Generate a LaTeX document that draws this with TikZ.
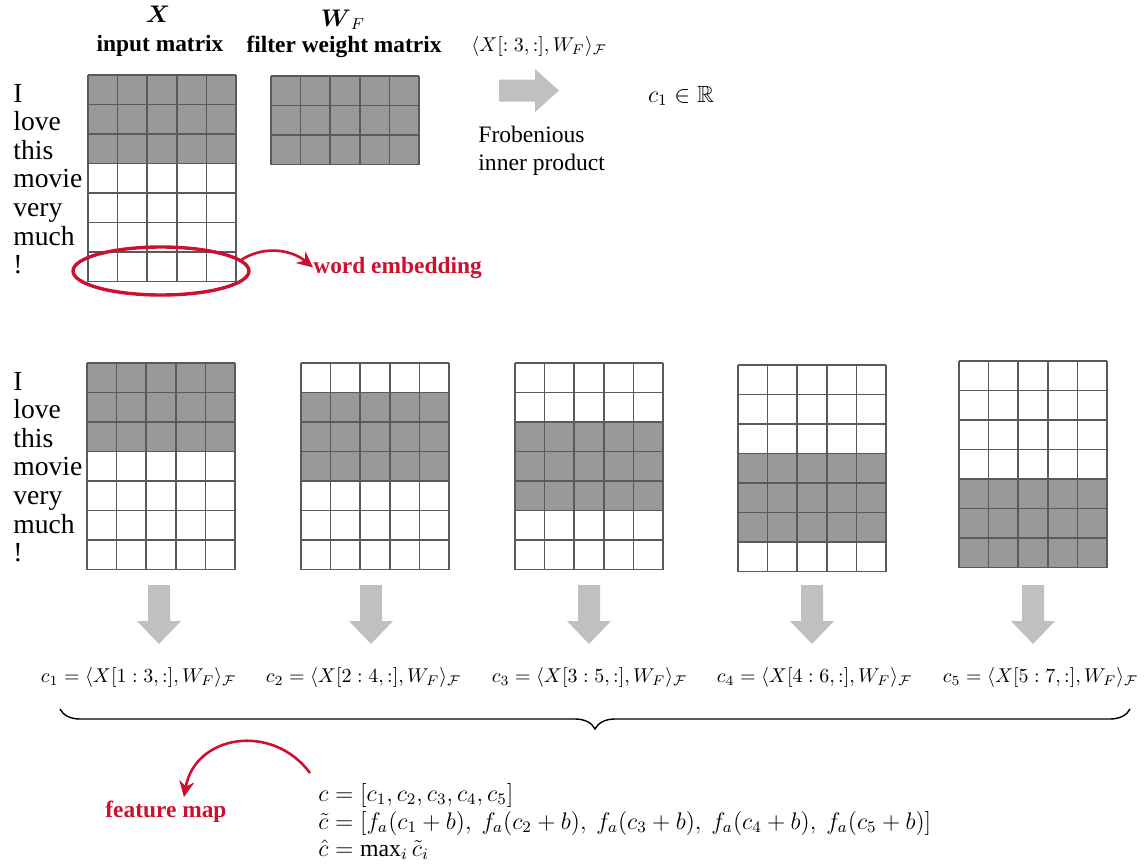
\documentclass[tikz,border=0pt]{standalone}
\usepackage{amsmath,amssymb}
\usepackage{fontspec}
\setmainfont{Liberation Serif}
\usetikzlibrary{arrows.meta,decorations.pathreplacing,calc,shapes.geometric}
\definecolor{cellgray}{HTML}{999999}
\definecolor{gridcol}{HTML}{5A5A5A}
\definecolor{arrowgray}{HTML}{C0C0C0}
\definecolor{accent}{RGB}{204,16,46}
\def\cw{29.6}
\def\ch{29.5}
\newcommand\gridmat[6]{% name, x, y, rows, first shaded, last shaded
  \node[inner sep=0pt, minimum width={5*\cw*0.5pt}, minimum height={#4*\ch*0.5pt}, anchor=north west] (#1) at (#2,#3) {};
  \fill[cellgray] (#2,{#3+(#5-1)*\ch}) rectangle ({#2+5*\cw},{#3+#6*\ch});
  \foreach \i in {0,...,5} \draw[gridln] ({#2+\i*\cw},#3) -- ({#2+\i*\cw},{#3+#4*\ch});
  \foreach \j in {0,...,#4} \draw[gridln] (#2,{#3+\j*\ch}) -- ({#2+5*\cw},{#3+\j*\ch});
}
\newcommand\downblock[2]{% center x, top y
  \fill[arrowgray] ({#1-11},#2) -- ({#1+11},#2) -- ({#1+11},{#2+36}) -- ({#1+22},{#2+36})
    -- (#1,{#2+59}) -- ({#1-22},{#2+36}) -- ({#1-11},{#2+36}) -- cycle;
}
\tikzset{
  gridln/.style={draw=gridcol, line width=0.75pt},
  word/.style={inner sep=0pt, anchor=base west, font=\fontsize{13.8}{16}\selectfont},
  hdr/.style={inner sep=0pt, anchor=base, font=\fontsize{11.7}{14}\selectfont},
  plain/.style={inner sep=0pt, anchor=base west, font=\fontsize{11.8}{14}\selectfont},
  mth/.style={inner sep=0pt, anchor=base, font=\fontsize{10.4}{12}\selectfont},
  eqn/.style={inner sep=0pt, anchor=base west, font=\fontsize{11.9}{14}\selectfont},
  redlbl/.style={inner sep=0pt, anchor=base west, text=accent, font=\fontsize{11.7}{14}\selectfont\bfseries},
  redarrow/.style={draw=accent, line width=1.3pt, -{Stealth[length=8pt,width=7.5pt]}},
}
\begin{document}
\begin{tikzpicture}[x=0.5pt,y=-0.5pt]
\useasboundingbox (0,0) rectangle (1148,867);
% headers
\node[hdr] (xlab) at (158,23) {$\boldsymbol{X}$};
\node[hdr] (xsub) at (160,52) {\bfseries input matrix};
\node[hdr] (wlab) at (343,26) {$\boldsymbol{W}_{F}$};
\node[hdr] (wsub) at (344,53) {\bfseries filter weight matrix};
% top matrices
\gridmat{topx}{88}{75}{7}{1}{3}
\gridmat{topw}{271}{76}{3}{1}{3}
% words (top)
\foreach \w [count=\k] in {I,love,this,movie,very,much,!}
  \node[word] (tw\k) at (13,{102+(\k-1)*28.6}) {\w};
% top arrow
\fill[arrowgray] (499,79.5) -- (535,79.5) -- (535,69) -- (559,90.5) -- (535,112) -- (535,101.5) -- (499,101.5) -- cycle;
\node[mth] (topf) at (539,52) {$\langle X[:3,:], W_F\rangle_{\mathcal{F}}$};
\node[plain] (frob1) at (478,142) {Frobenious};
\node[plain] (frob2) at (478,170) {inner product};
\node[inner sep=0pt, anchor=base, font=\fontsize{11.7}{14}\selectfont] (c1r) at (681,102) {$c_1 \in \mathbb{R}$};
% word embedding
\node[draw=accent, line width=1.7pt, ellipse, inner sep=0pt, minimum width=88pt, minimum height=24pt] (emb) at (161,271) {};
\node[redlbl] (we) at (313,273) {word embedding};
\draw[redarrow] (emb.8) .. controls (265,245) and (292,250) .. (we.west);
% bottom words
\foreach \w [count=\k] in {I,love,this,movie,very,much,!}
  \node[word] (bw\k) at (13,{390+(\k-1)*28.6}) {\w};
% bottom matrices
\gridmat{m1}{87}{363}{7}{1}{3}
\gridmat{m2}{301}{363}{7}{2}{4}
\gridmat{m3}{515}{363}{7}{3}{5}
\gridmat{m4}{738}{365}{7}{4}{6}
\gridmat{m5}{959}{361}{7}{5}{7}
% down arrows
\downblock{159}{585}
\downblock{371}{585}
\downblock{589}{585}
\downblock{812}{585}
\downblock{1033}{585}
% formulas
\node[mth] (f1) at (138.5,682) {$c_1 = \langle X[1:3,:], W_F\rangle_{\mathcal{F}}$};
\node[mth] (f2) at (363.5,682) {$c_2 = \langle X[2:4,:], W_F\rangle_{\mathcal{F}}$};
\node[mth] (f3) at (589.5,682) {$c_3 = \langle X[3:5,:], W_F\rangle_{\mathcal{F}}$};
\node[mth] (f4) at (814.5,682) {$c_4 = \langle X[4:6,:], W_F\rangle_{\mathcal{F}}$};
\node[mth] (f5) at (1040.5,682) {$c_5 = \langle X[5:7,:], W_F\rangle_{\mathcal{F}}$};
% brace
\coordinate (bl) at (60,709);
\coordinate (br) at (1130,709);
\draw[line width=0.7pt, decorate, decoration={brace, mirror, amplitude=10pt}] (bl) -- (br);
% equations
\node[eqn] (e1) at (318,801) {$c = [c_1, c_2, c_3, c_4, c_5]$};
\node[eqn] (e2) at (318,829) {$\tilde{c} = [f_a(c_1+b),\ f_a(c_2+b),\ f_a(c_3+b),\ f_a(c_4+b),\ f_a(c_5+b)]$};
\node[eqn] (e3) at (318,856) {$\hat{c} = \max_i \tilde{c}_i$};
% feature map
\node[redlbl] (fm) at (105,817) {feature map};
\coordinate (fmstart) at (310,773);
\draw[redarrow] (fmstart) .. controls (272,722) and (195,735) .. ($(fm.north)+(18,-3)$);
\end{tikzpicture}
\end{document}
